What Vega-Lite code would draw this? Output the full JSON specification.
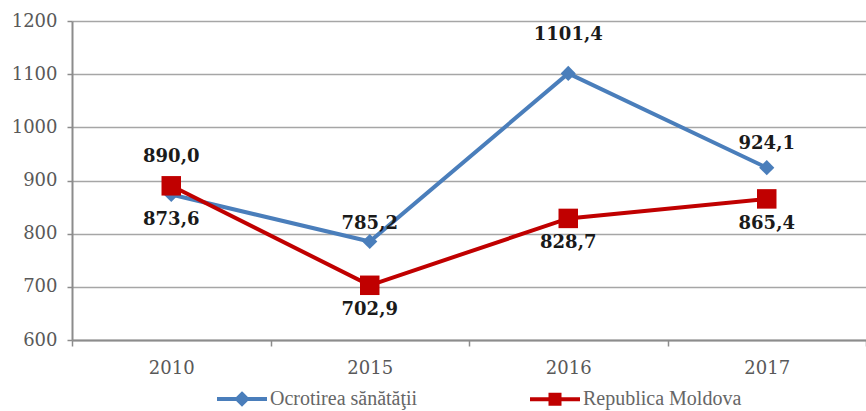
{
  "$schema": "https://vega.github.io/schema/vega-lite/v6.json",
  "width": 794,
  "height": 319,
  "autosize": "none",
  "padding": {"left": 72, "top": 21, "right": 0, "bottom": 71},
  "background": "white",
  "config": {
    "view": {"stroke": null},
    "locale": {"number": {"decimal": ",", "thousands": "", "grouping": [3], "currency": ["", ""]}}
  },
  "data": {
    "values": [
      {"year": "2010", "series": "Ocrotirea sănătăţii", "value": 873.6},
      {"year": "2015", "series": "Ocrotirea sănătăţii", "value": 785.2},
      {"year": "2016", "series": "Ocrotirea sănătăţii", "value": 1101.4},
      {"year": "2017", "series": "Ocrotirea sănătăţii", "value": 924.1},
      {"year": "2010", "series": "Republica Moldova", "value": 890.0},
      {"year": "2015", "series": "Republica Moldova", "value": 702.9},
      {"year": "2016", "series": "Republica Moldova", "value": 828.7},
      {"year": "2017", "series": "Republica Moldova", "value": 865.4}
    ]
  },
  "encoding": {
    "x": {
      "field": "year",
      "type": "ordinal",
      "scale": {"type": "band", "paddingInner": 0, "paddingOuter": 0},
      "axis": {
        "title": null,
        "labelAngle": 0,
        "tickBand": "extent",
        "tickSize": 6,
        "tickColor": "#8c8c8c",
        "tickWidth": 1.5,
        "domainColor": "#8c8c8c",
        "domainWidth": 2,
        "labelFont": "DejaVu Serif",
        "labelFontSize": 18,
        "labelColor": "#595959",
        "labelPadding": 13,
        "grid": false
      }
    },
    "y": {
      "field": "value",
      "type": "quantitative",
      "scale": {"domain": [600, 1200], "nice": false, "zero": false},
      "axis": {
        "title": null,
        "values": [600, 700, 800, 900, 1000, 1100, 1200],
        "format": "d",
        "grid": true,
        "gridColor": "#a6a6a6",
        "gridWidth": 1.5,
        "domainColor": "#8c8c8c",
        "domainWidth": 2,
        "tickSize": 5,
        "tickColor": "#8c8c8c",
        "tickWidth": 1.5,
        "labelFont": "DejaVu Serif",
        "labelFontSize": 18,
        "labelColor": "#595959",
        "labelPadding": 10
      }
    }
  },
  "layer": [
    {
      "mark": {"type": "line", "strokeWidth": 4},
      "encoding": {
        "color": {
          "field": "series",
          "type": "nominal",
          "scale": {"domain": ["Ocrotirea sănătăţii", "Republica Moldova"], "range": ["#4a7ebb", "#c00000"]},
          "legend": {
            "orient": "none",
            "legendX": 143,
            "legendY": 351,
            "direction": "horizontal",
            "title": null,
            "padding": 0,
            "columnPadding": 104,
            "labelOffset": 1,
            "labelLimit": 400,
            "labelFont": "Liberation Serif",
            "labelFontSize": 20,
            "labelColor": "#666666",
            "symbolSize": 2500,
            "symbolStrokeWidth": 4,
            "encode": {
              "symbols": {
                "update": {
                  "shape": {"signal": "datum.value === 'Ocrotirea sănătăţii' ? 'M-1,0L1,0M0,-0.2L0.2,0L0,0.2L-0.2,0Z' : 'M-1,0L1,0M-0.18,-0.18L0.18,-0.18L0.18,0.18L-0.18,0.18Z'"},
                  "fill": {"signal": "datum.value === 'Ocrotirea sănătăţii' ? '#4a7ebb' : '#c00000'"},
                  "stroke": {"signal": "datum.value === 'Ocrotirea sănătăţii' ? '#4a7ebb' : '#c00000'"},
                  "strokeWidth": {"value": 4},
                  "size": {"value": 2500},
                  "opacity": {"value": 1},
                  "fillOpacity": {"value": 1},
                  "strokeOpacity": {"value": 1}
                }
              }
            }
          }
        }
      }
    },
    {
      "transform": [{"filter": "datum.series === 'Ocrotirea sănătăţii'"}],
      "mark": {"type": "point", "shape": "diamond", "filled": true, "size": 230, "opacity": 1},
      "encoding": {"color": {"field": "series", "type": "nominal"}}
    },
    {
      "transform": [{"filter": "datum.series === 'Republica Moldova'"}],
      "mark": {"type": "point", "shape": "square", "filled": true, "size": 380, "opacity": 1},
      "encoding": {"color": {"field": "series", "type": "nominal"}}
    },
    {
      "transform": [{"filter": "(datum.series === 'Ocrotirea sănătăţii' && datum.year === '2010') || (datum.series === 'Republica Moldova' && datum.year !== '2010')"}],
      "mark": {"type": "text", "font": "DejaVu Serif", "fontWeight": "bold", "fontSize": 18, "color": "#1a1a1a", "dy": 25},
      "encoding": {"text": {"field": "value", "type": "quantitative", "format": ".1f"}}
    },
    {
      "transform": [{"filter": "datum.series === 'Ocrotirea sănătăţii' && datum.year === '2016'"}],
      "mark": {"type": "text", "font": "DejaVu Serif", "fontWeight": "bold", "fontSize": 18, "color": "#1a1a1a", "dy": -38},
      "encoding": {"text": {"field": "value", "type": "quantitative", "format": ".1f"}}
    },
    {
      "transform": [{"filter": "datum.series === 'Ocrotirea sănătăţii' && datum.year === '2017'"}],
      "mark": {"type": "text", "font": "DejaVu Serif", "fontWeight": "bold", "fontSize": 18, "color": "#1a1a1a", "dy": -24},
      "encoding": {"text": {"field": "value", "type": "quantitative", "format": ".1f"}}
    },
    {
      "transform": [{"filter": "datum.series === 'Ocrotirea sănătăţii' && datum.year === '2015'"}],
      "mark": {"type": "text", "font": "DejaVu Serif", "fontWeight": "bold", "fontSize": 18, "color": "#1a1a1a", "dy": -18},
      "encoding": {"text": {"field": "value", "type": "quantitative", "format": ".1f"}}
    },
    {
      "transform": [{"filter": "datum.series === 'Republica Moldova' && datum.year === '2010'"}],
      "mark": {"type": "text", "font": "DejaVu Serif", "fontWeight": "bold", "fontSize": 18, "color": "#1a1a1a", "dy": -29},
      "encoding": {"text": {"field": "value", "type": "quantitative", "format": ".1f"}}
    }
  ]
}
